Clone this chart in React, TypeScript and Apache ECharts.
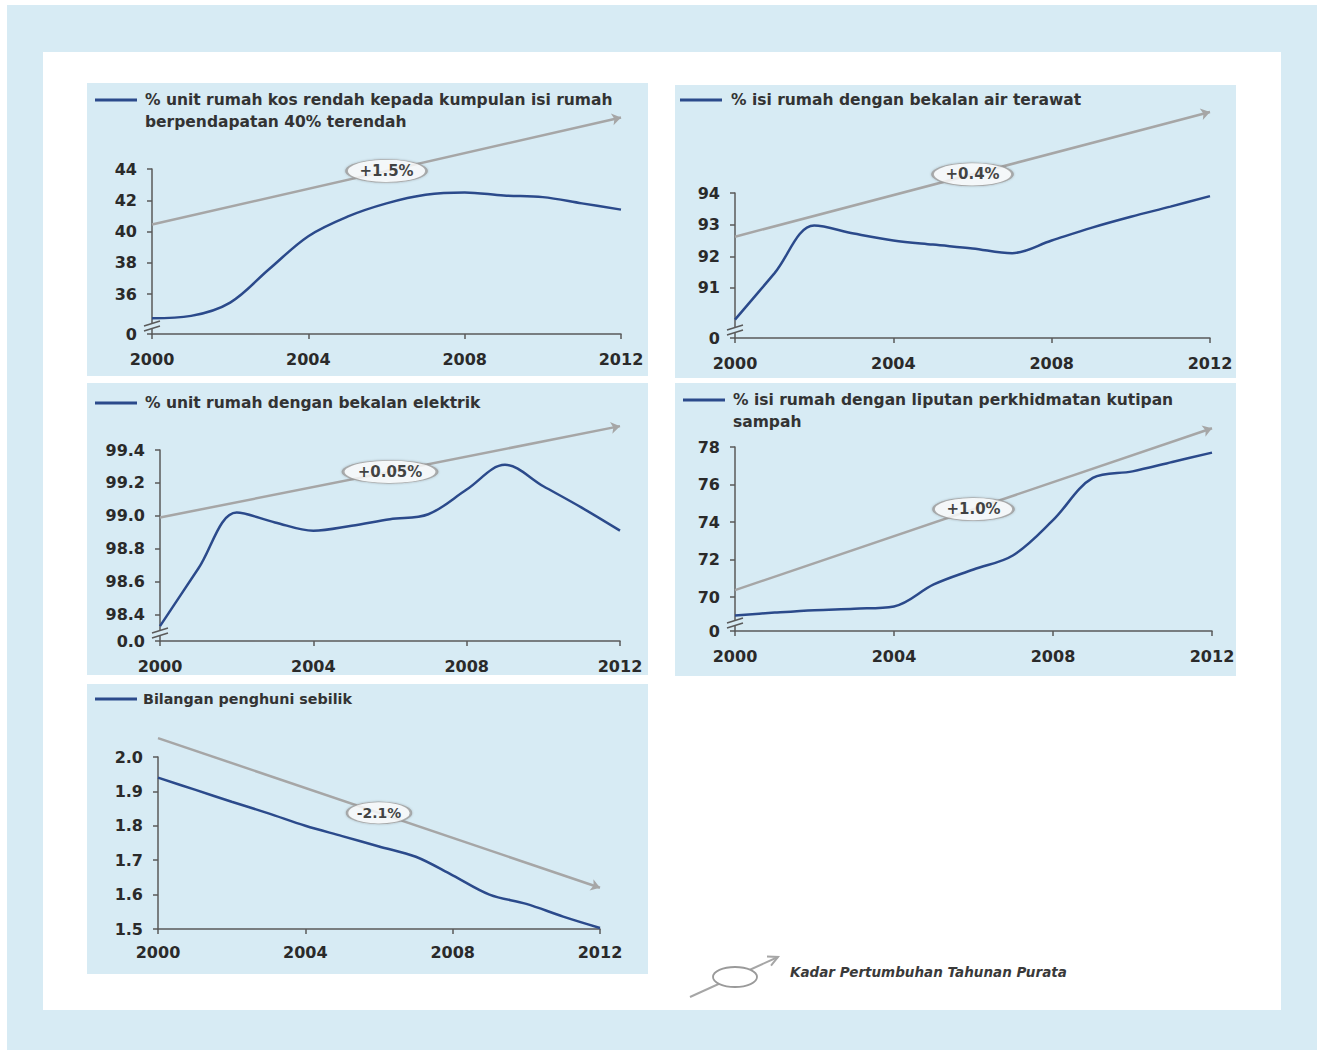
import React, { useEffect, useRef } from 'react';
import * as echarts from 'echarts';

// ---------- data ----------
const years = [2000, 2001, 2002, 2003, 2004, 2005, 2006, 2007, 2008, 2009, 2010, 2011, 2012];
const xTicks = [2000, 2004, 2008, 2012];

const p1Title = '% unit rumah kos rendah kepada kumpulan isi rumah\nberpendapatan 40% terendah';
const p1Values = [34.45, 34.6, 35.45, 37.6, 39.7, 40.95, 41.8, 42.35, 42.5, 42.3, 42.2, 41.8, 41.4];
const p1YTicks = [36, 38, 40, 42, 44];
const p1Break = 33.44;
const p1Trend = [40.45, 47.3];
const p1Rate = '+1.5%';

const p2Title = '% isi rumah dengan bekalan air terawat';
const p2Values = [90.0, 91.47, 92.97, 92.72, 92.5, 92.37, 92.25, 92.1, 92.5, 92.9, 93.25, 93.57, 93.9];
const p2YTicks = [91, 92, 93, 94];
const p2Break = 89.42;
const p2Trend = [92.62, 96.56];
const p2Rate = '+0.4%';

const p3Title = '% unit rumah dengan bekalan elektrik';
const p3Values = [98.33, 98.68, 99.02, 98.96, 98.91, 98.94, 98.98, 99.01, 99.16, 99.31, 99.18, 99.05, 98.91];
const p3YTicks = [98.4, 98.6, 98.8, 99.0, 99.2, 99.4];
const p3Break = 98.24;
const p3Trend = [98.99, 99.545];
const p3Rate = '+0.05%';

const p4Title = '% isi rumah dengan liputan perkhidmatan kutipan\nsampah';
const p4Values = [69.02, 69.17, 69.3, 69.38, 69.5, 70.67, 71.47, 72.23, 74.1, 76.35, 76.7, 77.2, 77.7];
const p4YTicks = [70, 72, 74, 76, 78];
const p4Break = 68.19;
const p4Trend = [70.37, 79.0];
const p4Rate = '+1.0%';

const p5Title = 'Bilangan penghuni sebilik';
const p5Values = [1.94, 1.905, 1.87, 1.836, 1.8, 1.77, 1.74, 1.71, 1.656, 1.6, 1.573, 1.536, 1.503];
const p5YTicks = [1.5, 1.6, 1.7, 1.8, 1.9, 2.0];
const p5Trend = [2.055, 1.62];
const p5Rate = '-2.1%';

const legendText = 'Kadar Pertumbuhan Tahunan Purata';

// ---------- styling ----------
const FONT = "'DejaVu Sans', sans-serif";
const BLUE = '#2b4a8b';
const GRAY = '#a6a6a6';
const BG = '#d7ebf4';
const AXIS = '#5a5a5a';
const TEXT = '#2a2a2a';

type Panel = {
  rect: [number, number, number, number];
  grid: { left: number; top: number; width: number; height: number };
  title: string;
  titleX: number;
  titleY: number;
  titleSize: number;
  lineX: number;
  values: number[];
  ticks: number[];
  brk: number | null;
  zeroLabel: string;
  dec: number;
  trend: number[];
  rate: string;
  ellipse: [number, number];
  rateSize: number;
  xMargin: number;
};

const panels: Panel[] = [
  {
    rect: [87, 83, 561, 293], grid: { left: 152, top: 169, width: 469, height: 165 },
    title: p1Title, titleX: 145, titleY: 100, titleSize: 15.5, lineX: 95,
    values: p1Values, ticks: p1YTicks, brk: p1Break, zeroLabel: '0', dec: 0,
    trend: p1Trend, rate: p1Rate, ellipse: [80, 23], rateSize: 15, xMargin: 17,
  },
  {
    rect: [675, 85, 561, 293], grid: { left: 735, top: 193, width: 475, height: 145 },
    title: p2Title, titleX: 731, titleY: 100, titleSize: 15.5, lineX: 680,
    values: p2Values, ticks: p2YTicks, brk: p2Break, zeroLabel: '0', dec: 0,
    trend: p2Trend, rate: p2Rate, ellipse: [80, 23], rateSize: 15, xMargin: 17,
  },
  {
    rect: [87, 383, 561, 292], grid: { left: 160, top: 450, width: 460, height: 191 },
    title: p3Title, titleX: 145, titleY: 403, titleSize: 15.5, lineX: 95,
    values: p3Values, ticks: p3YTicks, brk: p3Break, zeroLabel: '0.0', dec: 1,
    trend: p3Trend, rate: p3Rate, ellipse: [94, 23], rateSize: 15, xMargin: 17,
  },
  {
    rect: [675, 383, 561, 293], grid: { left: 735, top: 447, width: 477, height: 184 },
    title: p4Title, titleX: 733, titleY: 400, titleSize: 15.5, lineX: 683,
    values: p4Values, ticks: p4YTicks, brk: p4Break, zeroLabel: '0', dec: 0,
    trend: p4Trend, rate: p4Rate, ellipse: [80, 23], rateSize: 15, xMargin: 17,
  },
  {
    rect: [87, 684, 561, 290], grid: { left: 158, top: 757, width: 442, height: 172 },
    title: p5Title, titleX: 143, titleY: 699, titleSize: 14.3, lineX: 95,
    values: p5Values, ticks: p5YTicks, brk: null, zeroLabel: '1.5', dec: 1,
    trend: p5Trend, rate: p5Rate, ellipse: [64, 22], rateSize: 14, xMargin: 15,
  },
];

function buildOption() {
  const grids: any[] = [];
  const xAxes: any[] = [];
  const yAxes: any[] = [];
  const series: any[] = [];
  const graphics: any[] = [];

  graphics.push({ type: 'rect', z: -20, shape: { x: 7, y: 5, width: 1310, height: 1045 }, style: { fill: BG } });
  graphics.push({ type: 'rect', z: -19, shape: { x: 43, y: 52, width: 1238, height: 958 }, style: { fill: '#ffffff' } });

  panels.forEach((p, i) => {
    graphics.push({ type: 'rect', z: -18, shape: { x: p.rect[0], y: p.rect[1], width: p.rect[2], height: p.rect[3] }, style: { fill: BG } });
    graphics.push({ type: 'line', z: 50, shape: { x1: p.lineX, y1: p.titleY, x2: p.lineX + 42, y2: p.titleY }, style: { stroke: BLUE, lineWidth: 3 } });
    graphics.push({
      type: 'text', z: 50, x: p.titleX, y: p.titleY - 11,
      style: { text: p.title, fontSize: p.titleSize, fontWeight: 'bold', fontFamily: FONT, fill: '#333333', align: 'left', verticalAlign: 'top', lineHeight: 22 },
    });

    grids.push({ left: p.grid.left, top: p.grid.top, width: p.grid.width, height: p.grid.height, containLabel: false });

    xAxes.push({
      gridIndex: i, type: 'value', min: xTicks[0], max: xTicks[xTicks.length - 1], interval: xTicks[1] - xTicks[0],
      axisLine: { show: true, lineStyle: { color: AXIS, width: 1.5 } },
      axisTick: { show: true, length: 5, lineStyle: { color: AXIS, width: 1.5 } },
      axisLabel: { fontSize: 16, fontWeight: 'bold', color: TEXT, fontFamily: FONT, margin: p.xMargin, formatter: (v: number) => String(v) },
      splitLine: { show: false },
    });

    const yMin = p.brk !== null ? p.brk : p.ticks[0];
    const customs = p.brk !== null ? [p.brk, ...p.ticks] : p.ticks;
    yAxes.push({
      gridIndex: i, type: 'value', min: yMin, max: p.ticks[p.ticks.length - 1],
      axisLine: { show: true, lineStyle: { color: AXIS, width: 1.5 } },
      axisTick: { show: true, length: 5, customValues: customs, lineStyle: { color: AXIS, width: 1.5 } },
      axisLabel: {
        customValues: customs, fontSize: 16, fontWeight: 'bold', color: TEXT, fontFamily: FONT, margin: 15,
        formatter: (v: number) => (p.brk !== null && Math.abs(v - p.brk) < 1e-6 ? p.zeroLabel : v.toFixed(p.dec)),
      },
      splitLine: { show: false },
    });

    series.push({
      type: 'lines', coordinateSystem: 'cartesian2d', xAxisIndex: i, yAxisIndex: i,
      clip: false, silent: true, z: 3,
      symbol: ['none', 'arrow'], symbolSize: 9,
      lineStyle: { color: GRAY, width: 2.5, opacity: 1 },
      data: [{ coords: [[years[0], p.trend[0]], [years[years.length - 1], p.trend[1]]] }],
    });

    series.push({
      type: 'line', xAxisIndex: i, yAxisIndex: i, smooth: 0.35, showSymbol: false, z: 4,
      lineStyle: { color: BLUE, width: 2.5 }, itemStyle: { color: BLUE },
      data: years.map((y, j) => [y, p.values[j]]),
    });

    series.push({
      type: 'scatter', xAxisIndex: i, yAxisIndex: i, clip: false, silent: true, z: 6,
      symbol: 'circle', symbolSize: p.ellipse,
      itemStyle: { color: '#ffffff', borderColor: '#9a9a9a', borderWidth: 1.5, shadowBlur: 2, shadowColor: 'rgba(0,0,0,0.25)' },
      label: { show: true, position: 'inside', formatter: p.rate, fontSize: p.rateSize, fontWeight: 'bold', color: '#111', fontFamily: FONT },
      data: [[(years[0] + years[years.length - 1]) / 2, (p.trend[0] + p.trend[1]) / 2]],
    });

    if (p.brk !== null) {
      const bx = p.grid.left;
      const by = p.grid.top + p.grid.height - 9;
      graphics.push({
        type: 'polygon', z: 40,
        shape: { points: [[bx - 8, by + 1], [bx + 8, by - 4], [bx + 8, by + 1], [bx - 8, by + 6]] },
        style: { fill: BG },
      });
      graphics.push({ type: 'line', z: 41, shape: { x1: bx - 8, y1: by + 1, x2: bx + 8, y2: by - 4 }, style: { stroke: AXIS, lineWidth: 1.5 } });
      graphics.push({ type: 'line', z: 41, shape: { x1: bx - 8, y1: by + 6, x2: bx + 8, y2: by + 1 }, style: { stroke: AXIS, lineWidth: 1.5 } });
    }
  });

  // bottom legend
  graphics.push({ type: 'line', z: 40, shape: { x1: 690, y1: 997, x2: 778, y2: 957 }, style: { stroke: GRAY, lineWidth: 2 } });
  graphics.push({ type: 'polyline', z: 40, shape: { points: [[767, 956.6], [778, 957], [771, 965.7]] }, style: { stroke: GRAY, lineWidth: 2, fill: 'none' } });
  graphics.push({ type: 'ellipse', z: 41, shape: { cx: 735, cy: 977, rx: 22, ry: 10 }, style: { fill: '#ffffff', stroke: '#9a9a9a', lineWidth: 1.8 } });
  graphics.push({
    type: 'text', z: 41, x: 790, y: 972,
    style: { text: legendText, fontSize: 13.5, fontStyle: 'italic', fontWeight: 'bold', fontFamily: FONT, fill: '#3a3a3a', align: 'left', verticalAlign: 'middle' },
  });

  return {
    animation: false,
    backgroundColor: '#ffffff',
    textStyle: { fontFamily: FONT },
    grid: grids,
    xAxis: xAxes,
    yAxis: yAxes,
    series,
    graphic: { elements: graphics },
  };
}

export default function App() {
  const ref = useRef<HTMLDivElement>(null);
  useEffect(() => {
    if (!ref.current) return;
    const chart = echarts.init(ref.current, undefined, { renderer: 'svg' });
    chart.setOption(buildOption() as any);
    return () => chart.dispose();
  }, []);
  return <div ref={ref} style={{ position: 'absolute', left: 0, top: 0, width: 1323, height: 1050 }} />;
}
